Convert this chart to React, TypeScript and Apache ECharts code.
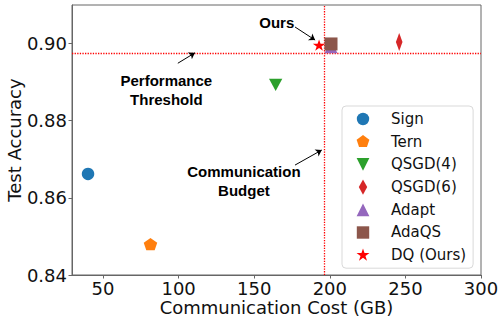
import React, { useEffect, useRef } from 'react';
import * as echarts from 'echarts';

// ---- data ----
const seriesNames = ['Sign', 'Tern', 'QSGD(4)', 'QSGD(6)', 'Adapt', 'AdaQS', 'DQ (Ours)'];
const commCost = [40.1, 81.4, 164.2, 245.9, 200.8, 200.8, 192.9];
const testAcc = [0.8662, 0.848, 0.8893, 0.9004, 0.8992, 0.8999, 0.8996];
const xMin = 29.5;
const xMax = 300;
const yMin = 0.84;
const yMax = 0.91;
const xTicks = [50, 100, 150, 200, 250, 300];
const yTicks = [0.84, 0.86, 0.88, 0.9];
const budget = 196.2;
const threshold = 0.8976;
const annotationTexts = ['Performance\nThreshold', 'Communication\nBudget', 'Ours'];
const annotationTextPos = [[91.9, 0.888], [143.2, 0.8643], [164.9, 0.9054]];
const arrowStarts = [[99.5, 0.8949], [177, 0.8685], [177, 0.9043]];
const arrowEnds = [[110.8, 0.8976], [194.7, 0.8724], [190.3, 0.9009]];

// ---- styles ----
const colors = ['#1f77b4', '#ff7f0e', '#2ca02c', '#d62728', '#9467bd', '#8c564b', '#ff0000'];

function starPts(r: number) {
  const pts: string[] = [];
  for (let k = 0; k < 10; k++) {
    const a = (-90 + k * 36) * Math.PI / 180;
    const rr = k % 2 === 0 ? r : r * 0.382;
    pts.push(`${(rr * Math.cos(a)).toFixed(4)},${(rr * Math.sin(a)).toFixed(4)}`);
  }
  return 'M' + pts.join(' L') + ' Z';
}
function pentPts(r: number) {
  const pts: string[] = [];
  for (let k = 0; k < 5; k++) {
    const a = (-90 + k * 72) * Math.PI / 180;
    pts.push(`${(r * Math.cos(a)).toFixed(4)},${(r * Math.sin(a)).toFixed(4)}`);
  }
  return 'M' + pts.join(' L') + ' Z';
}
const circlePts = (r: number) => `M${-r},0 A${r},${r} 0 1,0 ${r},0 A${r},${r} 0 1,0 ${-r},0 Z`;
const triDown = (h: number) => `M${-h},${-h} L${h},${-h} L0,${h} Z`;
const triUp = (h: number) => `M0,${-h} L${h},${h} L${-h},${h} Z`;
const square = (h: number) => `M${-h},${-h} L${h},${-h} L${h},${h} L${-h},${h} Z`;
const diamond = (w: number, h: number) => `M0,${-h} L${w},0 L0,${h} L${-w},0 Z`;

const symbols = ['circle', 'path://' + pentPts(1), 'path://' + triDown(1), 'path://' + diamond(0.6, 1), 'path://' + triUp(1), 'path://' + square(1), 'path://' + starPts(1)];
const symbolSizes: any[] = [12.5, [13.5, 12.8], [13.3, 12.4], [11, 18], [13, 13], [13, 13], [12.5, 11.9]];

// legend icons: shape within a frame so the marker sits at the left of a wide item box
const ICON_W = 37;
const ICON_H = 18;
const unit = ICON_H / 2; // px per path unit
const iconLeft = -14 / unit;
const iconRight = iconLeft + ICON_W / unit;
const frame = ` M${iconLeft.toFixed(4)},-1 L${iconLeft.toFixed(4)},-1 M${iconRight.toFixed(4)},1 L${iconRight.toFixed(4)},1`;
const legendShapes = [
  circlePts(6.2 / unit),
  pentPts(6.7 / unit),
  triDown(6.4 / unit),
  diamond(4.2 / unit, 7.6 / unit),
  triUp(6.4 / unit),
  square(6.2 / unit),
  starPts(6.8 / unit),
];
const legendIcons = legendShapes.map((s) => 'path://' + s + frame);

const FONT = 'DejaVu Sans';
const AXIS_COLOR = '#666';

export default function App() {
  const ref = useRef<HTMLDivElement>(null);
  useEffect(() => {
    document.body.style.margin = '0';
    const chart = echarts.init(ref.current!, null, { renderer: 'svg' });

    const scatterSeries = seriesNames.map((name, i) => ({
      name,
      type: 'scatter',
      data: [[commCost[i], testAcc[i]]],
      symbol: symbols[i],
      symbolSize: symbolSizes[i],
      symbolKeepAspect: true,
      itemStyle: { color: colors[i], opacity: 1 },
      z: 3 + i,
    }));

    const option: any = {
      animation: false,
      grid: { left: 72, right: 17, top: 5, bottom: 41, show: true, borderColor: AXIS_COLOR, borderWidth: 1, outerBoundsMode: 'none' },
      xAxis: {
        type: 'value',
        min: xMin,
        max: xMax,
        name: 'Communication Cost (GB)',
        nameLocation: 'middle',
        nameGap: 24,
        nameMoveOverlap: false,
        nameTextStyle: { fontFamily: FONT, fontSize: 18, lineHeight: 16, color: '#111' },
        axisLine: { show: true, lineStyle: { color: AXIS_COLOR } },
        axisTick: { show: true, length: 3.5, customValues: xTicks, lineStyle: { color: AXIS_COLOR } },
        axisLabel: { customValues: xTicks, fontFamily: FONT, fontSize: 18, lineHeight: 16, color: '#111', margin: 5 },
        splitLine: { show: false },
      },
      yAxis: {
        type: 'value',
        min: yMin,
        max: yMax,
        name: 'Test Accuracy',
        nameLocation: 'middle',
        nameGap: 49,
        nameMoveOverlap: false,
        nameTextStyle: { fontFamily: FONT, fontSize: 18, color: '#111' },
        axisLine: { show: true, lineStyle: { color: AXIS_COLOR } },
        axisTick: { show: true, length: 3.5, customValues: yTicks, lineStyle: { color: AXIS_COLOR } },
        axisLabel: {
          customValues: yTicks,
          fontFamily: FONT,
          fontSize: 18,
          color: '#111',
          margin: 5,
          formatter: (v: number) => v.toFixed(2),
        },
        splitLine: { show: false },
      },
      legend: {
        orient: 'vertical',
        left: 342,
        top: 106,
        padding: [4, 7, 4, 7],
        itemWidth: ICON_W,
        itemHeight: ICON_H,
        itemGap: 4.7,
        symbolKeepAspect: true,
        borderColor: '#d9d9d9',
        borderWidth: 1,
        borderRadius: 4,
        backgroundColor: 'rgba(255,255,255,0.8)',
        textStyle: { fontFamily: FONT, fontSize: 15, color: '#111', lineHeight: 16 },
        data: seriesNames.map((n, i) => ({ name: n, icon: legendIcons[i] })),
      },
      series: [
        {
          name: '_refLines',
          type: 'lines',
          coordinateSystem: 'cartesian2d',
          z: 2,
          silent: true,
          symbol: 'none',
          lineStyle: { color: '#ff0000', width: 1.3, type: [1.3, 1.3], opacity: 1, curveness: 0 },
          data: [
            { coords: [[budget, yMin], [budget, yMax]] },
            { coords: [[xMin, threshold], [xMax, threshold]] },
          ],
        },
        {
          name: '_arrows',
          type: 'lines',
          coordinateSystem: 'cartesian2d',
          z: 20,
          silent: true,
          symbol: ['none', 'arrow'],
          symbolSize: 6,
          lineStyle: { color: '#000', width: 1, opacity: 1, curveness: 0 },
          data: arrowStarts.map((s, i) => ({ coords: [s, arrowEnds[i]] })),
        },
        {
          name: '_annotations',
          type: 'scatter',
          data: [],
          z: 20,
          markPoint: {
            silent: true,
            animation: false,
            symbol: 'circle',
            symbolSize: 1,
            itemStyle: { color: 'rgba(0,0,0,0)' },
            label: {
              show: true,
              position: 'inside',
              fontFamily: 'Liberation Sans',
              fontWeight: 'bold',
              fontSize: 15,
              lineHeight: 19,
              color: '#000',
              align: 'center',
              verticalAlign: 'middle',
            },
            data: annotationTexts.map((t, i) => ({
              coord: annotationTextPos[i],
              value: t,
              label: { formatter: t },
            })),
          },
        },
        ...scatterSeries,
      ],
    };
    chart.setOption(option);
    return () => chart.dispose();
  }, []);
  return <div ref={ref} style={{ width: 498, height: 316 }} />;
}
